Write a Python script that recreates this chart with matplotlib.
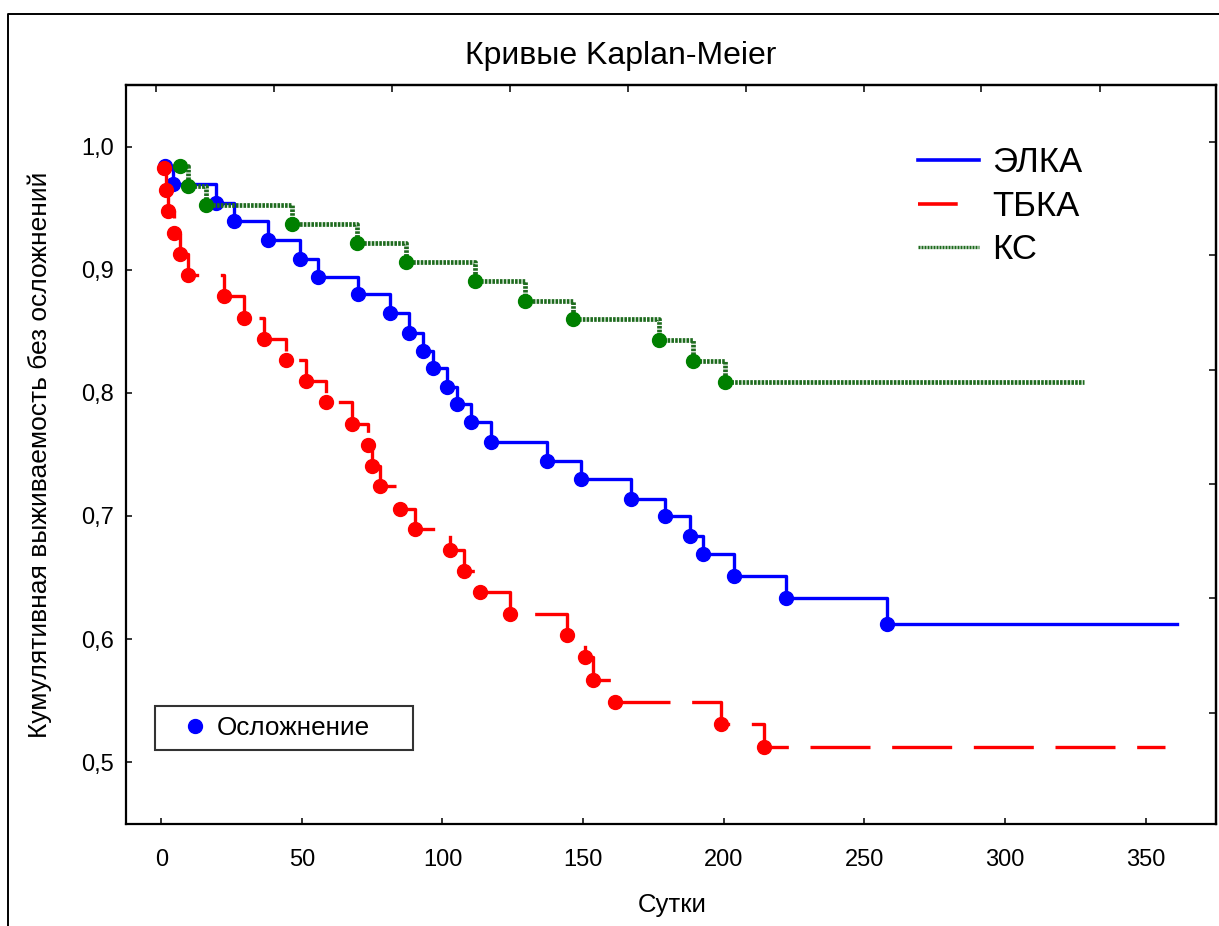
import matplotlib
matplotlib.use('Agg')
import matplotlib.pyplot as plt
from matplotlib.lines import Line2D

plt.rcParams['font.family'] = ['Liberation Sans', 'DejaVu Sans']

# ЭЛКА
elka_t = [1.2, 4.1, 19.5, 25.8, 37.8, 49.3, 55.6, 69.8, 81.2, 88.2, 93.2, 96.7, 101.7,
          105.2, 110.3, 117.4, 137.1, 149.3, 167.0, 179.0, 188.0, 192.5, 203.8, 222.3, 258.0]
elka_s = [0.984, 0.970, 0.954, 0.940, 0.924, 0.909, 0.894, 0.880, 0.865, 0.849, 0.834, 0.820, 0.805,
          0.791, 0.776, 0.760, 0.745, 0.730, 0.714, 0.700, 0.684, 0.669, 0.651, 0.633, 0.612]
elka_end = 361

# ТБКА
tbka_t = [0.9, 1.8, 2.4, 4.5, 6.7, 9.5, 22.5, 29.3, 36.4, 44.3, 51.4, 58.5, 67.7, 73.5,
          74.8, 77.8, 84.9, 90.4, 102.5, 107.6, 113.2, 123.9, 144.2, 150.7, 153.4, 161.3, 198.9, 214.4]
tbka_s = [0.983, 0.965, 0.948, 0.930, 0.913, 0.896, 0.879, 0.861, 0.844, 0.827, 0.810, 0.793, 0.775, 0.758,
          0.741, 0.724, 0.706, 0.689, 0.672, 0.655, 0.638, 0.620, 0.603, 0.585, 0.567, 0.549, 0.531, 0.512]
tbka_end = 357

# КС
ks_t = [6.8, 9.5, 15.8, 46.5, 69.7, 86.9, 111.7, 129.4, 146.3, 177.1, 189.1, 200.4]
ks_s = [0.984, 0.968, 0.953, 0.937, 0.922, 0.906, 0.891, 0.875, 0.860, 0.843, 0.826, 0.809]
ks_end = 328

x_ticks = [0, 50, 100, 150, 200, 250, 300, 350]
y_ticks = [0.5, 0.6, 0.7, 0.8, 0.9, 1.0]
top_ticks = [-1.8, 40.1, 82.1, 124.0, 165.9, 207.8, 249.7, 291.6, 333.6]
right_ticks = [1.004, 0.912, 0.819, 0.726, 0.633, 0.540]

fig = plt.figure(figsize=(12.19, 9.26), dpi=100)
ax = fig.add_axes([0.1034, 0.1102, 0.8941, 0.7981])

def km(t, s, end):
    # ступенчатая кривая: продолжаем последнее значение до конца наблюдения
    return list(t) + [end], list(s) + [s[-1]]

xt, ys = km(elka_t, elka_s, elka_end)
ax.step(xt, ys, where='post', color='#0000ff', lw=2.4, zorder=2)
ax.plot(elka_t, elka_s, 'o', color='#0000ff', ms=10, zorder=3)

xt, ys = km(tbka_t, tbka_s, tbka_end)
ax.step(xt, ys, where='post', color='#ff0000', lw=2.4, dashes=(18, 6.5), zorder=4)
ax.plot(tbka_t, tbka_s, 'o', color='#ff0000', ms=10, zorder=5)

xt, ys = km(ks_t, ks_s, ks_end)
ax.step(xt, ys, where='post', color='#1e6b1e', lw=3.4, dashes=(0.55, 0.25), zorder=6)
ax.plot(ks_t, ks_s, 'o', color='#008000', ms=10, zorder=7)

ax.set_xlim(-12.5, 375)
ax.set_ylim(0.4497, 1.0503)
ax.set_xticks(x_ticks)
ax.set_xticklabels([str(v) for v in x_ticks])
ax.set_yticks(y_ticks)
ax.set_yticklabels([f'{v:.1f}'.replace('.', ',') for v in y_ticks])
ax.tick_params(axis='x', direction='in', length=4.5, width=1.1, pad=18, labelsize=17)
ax.tick_params(axis='y', direction='in', length=4, width=1.1, pad=9, labelsize=17)
for sp in ax.spines.values():
    sp.set_linewidth(1.6)

ax_top = ax.secondary_xaxis('top')
ax_top.set_xticks(top_ticks)
ax_top.set_xticklabels([])
ax_top.tick_params(direction='in', length=5, width=1.1)
ax_top.spines['top'].set_linewidth(1.6)

ax_right = ax.secondary_yaxis('right')
ax_right.set_yticks(right_ticks)
ax_right.set_yticklabels([])
ax_right.tick_params(direction='in', length=5, width=1.1)
ax_right.spines['right'].set_linewidth(1.6)

handles = [Line2D([], [], color='#0000ff', lw=2.6),
           Line2D([], [], color='#ff0000', lw=2.6, dashes=(11, 20)),
           Line2D([], [], color='#1e6b1e', lw=2.4, dashes=(0.6, 0.3))]
leg1 = ax.legend(handles, ['ЭЛКА', 'ТБКА', 'КС'], loc='upper left',
                 bbox_to_anchor=(0.7266, 0.917), frameon=False, fontsize=25,
                 handlelength=1.75, handletextpad=0.4, labelspacing=0.3,
                 borderpad=0, borderaxespad=0)
ax.add_artist(leg1)

ev = Line2D([], [], color='#0000ff', marker='o', ls='none', ms=10)
leg2 = ax.legend([ev], ['Осложнение'], loc='upper left',
                 bbox_to_anchor=(0.0266, 0.1597, 0.2367, 0.0), mode='expand',
                 fontsize=18.8, frameon=True, fancybox=False, edgecolor='black',
                 borderaxespad=0, borderpad=0.38, handlelength=2.3, handletextpad=-0.3)
leg2.get_frame().set_linewidth(1.5)

fig.text(0.5094, 0.939, 'Кривые Kaplan-Meier', ha='center', va='center', fontsize=23)
fig.text(0.5513, 0.0227, 'Сутки', ha='center', va='center', fontsize=18.5)
fig.text(0.0328, 0.5086, 'Кумулятивная выживаемость без осложнений', ha='center',
         va='center', rotation=90, fontsize=19)

# рамка вокруг рисунка
fig.add_artist(Line2D([0.0066, 0.0066, 1.0], [0.0, 0.9849, 0.9849], color='black', lw=1.4,
                      transform=fig.transFigure))

fig.savefig('out.png', dpi=100)
